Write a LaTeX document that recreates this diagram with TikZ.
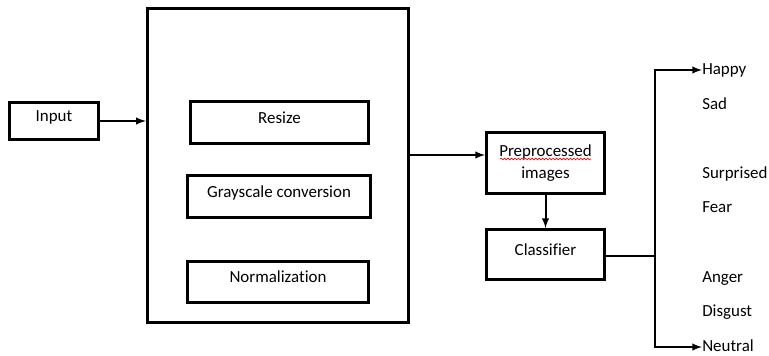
\documentclass[tikz,border=0pt]{standalone}
\usepackage{fontspec}
\setmainfont{Carlito}[Ligatures=NoCommon]
\usetikzlibrary{decorations.pathmorphing}

\begin{document}
\begin{tikzpicture}[x=0.75pt,y=-0.75pt,font=\fontsize{12.7}{16.5}\selectfont,
        blk/.style={draw,line width=2.2pt,inner sep=0pt,text height=8.9pt,text depth=8pt},
        ln/.style={line width=1.5pt},
        arr/.style={ln,-latex},
        emo/.style={anchor=west,inner sep=0pt,text height=8.9pt,text depth=2.3pt}]
        \useasboundingbox (0,0) rectangle (769,356) ;
        % input and preprocessing block
        \node[blk,minimum width=67pt,minimum height=28pt] (input) at (54,121) {Input} ;
        \node[draw,line width=2.2pt,minimum width=196pt,minimum height=236pt] (prepro) at (278,165.5) {} ;
        \node[blk,minimum width=133.5pt,minimum height=31.5pt] (resize) at (279.5,122.5) {Resize} ;
        \node[blk,minimum width=137pt,minimum height=31.5pt] (gray) at (279,196.5) {Grayscale conversion} ;
        \node[blk,minimum width=136pt,minimum height=31pt] (norm) at (278,282) {Normalization} ;
        % preprocessed images and classifier
        \node[draw,line width=2.2pt,align=center,minimum width=88.5pt,minimum height=46pt] (images) at (545.5,163)
        {Preprocessed\\images} ;
        \draw[red,line width=0.5pt,decorate,decoration={snake,amplitude=0.6pt,segment length=2.6pt}]
        (500,159) -- (591,159) ;
        \node[blk,minimum width=88.5pt,minimum height=37.5pt] (classifier) at (545.5,254.5) {Classifier} ;
        % emotion labels
        \foreach \name/\y/\lbl in {happy/70/Happy,sad/105/Sad,surprised/174/Surprised,fear/208/Fear,
          anger/278/Anger,disgust/312/Disgust,neutral/347/Neutral}
          \node[emo] (\name) at (702,\y) {\lbl} ;
        \coordinate (fork) at (655,256) ;
        % connectors
        \draw[arr] (input.east) -- (input.east -| prepro.west) ;
        \draw[arr] ([yshift=6pt]images.west -| prepro.east) -- ([yshift=6pt]images.west) ;
        \draw[arr] (images.south) -- (classifier.north) ;
        \draw[ln] (classifier.east |- fork) -- (fork) ;
        \draw[arr] (fork) |- (happy.west) ;
        \draw[arr] (fork) |- (neutral.west) ;
      \end{tikzpicture}
\end{document}
